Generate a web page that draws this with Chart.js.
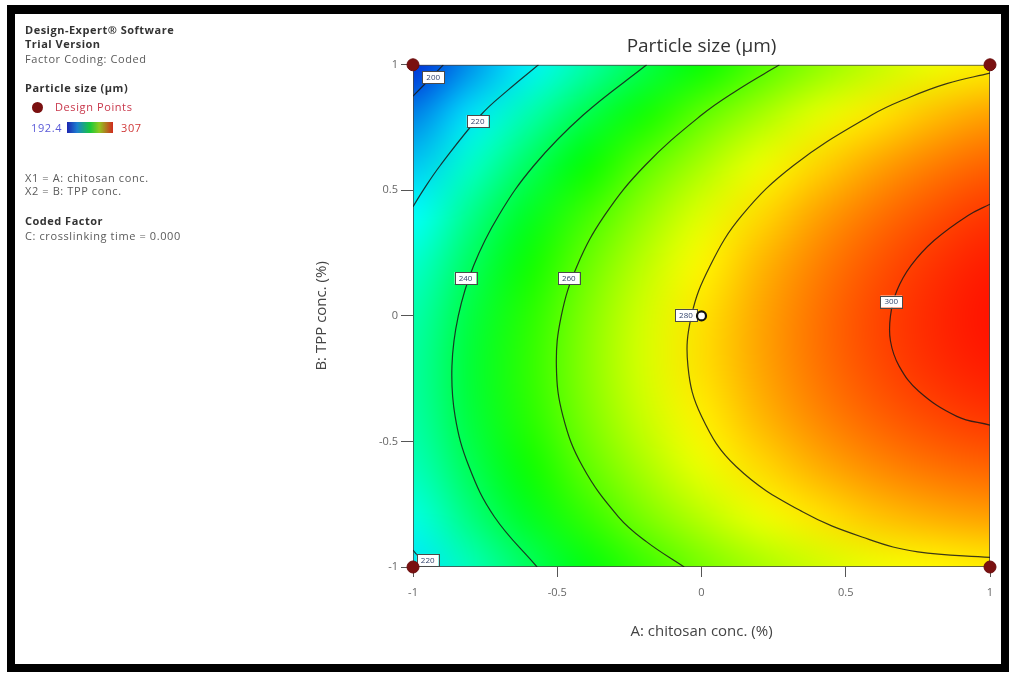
<!DOCTYPE html>
<html>
<head>
<meta charset="utf-8">
<title>Particle size (µm)</title>
<script src="https://cdn.jsdelivr.net/npm/chart.js@4.4.1/dist/chart.umd.min.js"></script>
<style>
  html, body { margin: 0; padding: 0; background: #fff; }
  #page { position: relative; width: 1011px; height: 673px; overflow: hidden; font-family: 'Open Sans', 'Noto Sans', sans-serif; }
  #frame { position: absolute; left: 7px; top: 5px; width: 986px; height: 650px; border: 8px solid #000; border-top-width: 9px; }
  #plot { position: absolute; left: 0; top: 0; }
  .side { position: absolute; left: 25px; font-size: 11px; letter-spacing: 0.6px; line-height: 13px; color: #5a5a5a; white-space: nowrap; }
  .side.b { font-weight: 700; color: #333; letter-spacing: 0.5px; }
  #dot { position: absolute; left: 32px; top: 102px; width: 11px; height: 11px; border-radius: 50%; background: #7a1010; }
  #ramp { position: absolute; left: 67px; top: 122px; width: 46px; height: 11px;
          background: linear-gradient(to right, #1c24b0 0%, #1e7fd0 22%, #18c83a 50%, #8fc820 70%, #d02a1e 100%); }
</style>
</head>
<body>
<div id="page">
  <canvas id="plot" width="1011" height="673"></canvas>
  <div id="frame"></div>

  <div class="side b" style="top:23px">Design-Expert® Software</div>
  <div class="side b" style="top:37px">Trial Version</div>
  <div class="side" style="top:52px">Factor Coding: Coded</div>
  <div class="side b" style="top:81px">Particle size (µm)</div>
  <div id="dot"></div>
  <div class="side" style="top:100px; left:55px; color:#c8364a">Design Points</div>
  <div class="side" style="top:121px; left:31px; color:#5a5ad8">192.4</div>
  <div id="ramp"></div>
  <div class="side" style="top:121px; left:121px; color:#d03838">307</div>
  <div class="side" style="top:171px">X1 = A: chitosan conc.</div>
  <div class="side" style="top:184px">X2 = B: TPP conc.</div>
  <div class="side b" style="top:214px">Coded Factor</div>
  <div class="side" style="top:229px">C: crosslinking time = 0.000</div>
</div>

<script>
// Coded factor levels of the surface grid (A across, B down from +1 to -1)
const aLevels = [-1, -0.8, -0.6, -0.4, -0.2, 0, 0.2, 0.4, 0.6, 0.8, 1];
const bLevels = [1, 0.8, 0.6, 0.4, 0.2, 0, -0.2, -0.4, -0.6, -0.8, -1];

// Particle size (µm) on the grid, one row per B level
const sizeGrid = [
  [192.6, 206.4, 219.0, 230.5, 241.0, 250.3, 258.4, 265.5, 271.5, 276.3, 280.0],
  [204.1, 217.6, 230.0, 241.3, 251.5, 260.5, 268.4, 275.3, 281.0, 285.5, 289.0],
  [213.6, 226.9, 239.0, 250.0, 260.0, 268.8, 276.4, 283.0, 288.5, 292.8, 296.0],
  [221.1, 234.1, 246.0, 256.8, 266.5, 275.0, 282.4, 288.8, 294.0, 298.0, 301.0],
  [226.6, 239.4, 251.0, 261.5, 271.0, 279.3, 286.4, 292.5, 297.5, 301.3, 304.0],
  [230.1, 242.6, 254.0, 264.3, 273.5, 281.5, 288.4, 294.2, 299.0, 302.5, 305.0],
  [231.6, 243.9, 255.0, 265.0, 274.0, 281.8, 288.4, 294.0, 298.5, 301.8, 304.0],
  [231.1, 243.1, 254.0, 263.8, 272.5, 280.0, 286.4, 291.8, 296.0, 299.0, 301.0],
  [228.6, 240.4, 251.0, 260.5, 269.0, 276.3, 282.4, 287.5, 291.5, 294.3, 296.0],
  [224.1, 235.6, 246.0, 255.3, 263.5, 270.5, 276.4, 281.3, 285.0, 287.5, 289.0],
  [217.6, 228.9, 239.0, 248.0, 256.0, 262.8, 268.4, 273.0, 276.5, 278.8, 280.0]
];

// Colour ramp: 192.4 (blue) .. 307 (red)
const colorStops = [192.4, 221.05, 249.7, 278.35, 307];
const stopColors = [[0, 40, 215], [0, 255, 255], [0, 255, 0], [255, 255, 0], [255, 0, 0]];

// Contour lines (A, B pairs along each line)
const contourLevels = [200, 220, 220, 240, 260, 280, 300];
const contourA = [
  [-0.895, -0.945, -1],
  [-0.565, -0.67, -0.765, -0.905, -0.965, -1],
  [-1, -0.975, -0.957],
  [-0.19, -0.41, -0.58, -0.703, -0.79, -0.843, -0.865, -0.854, -0.806, -0.718, -0.57],
  [0.27, 0.125, 0.0, -0.195, -0.336, -0.431, -0.486, -0.503, -0.48, -0.412, -0.288, -0.19, -0.06],
  [1, 0.85, 0.72, 0.59, 0.32, 0.14, 0.03, -0.035, -0.047, 0.0, 0.12, 0.35, 0.58, 0.75, 1],
  [1, 0.924, 0.806, 0.726, 0.677, 0.655, 0.655, 0.685, 0.753, 0.885, 1]
];
const contourB = [
  [1, 0.94, 0.875],
  [1, 0.9, 0.8, 0.6, 0.5, 0.435],
  [-0.933, -0.968, -1],
  [1, 0.8, 0.6, 0.4, 0.2, 0, -0.2, -0.4, -0.6, -0.8, -1],
  [1, 0.9, 0.8, 0.6, 0.4, 0.2, 0, -0.2, -0.4, -0.6, -0.8, -0.9, -1],
  [0.967, 0.925, 0.87, 0.8, 0.6, 0.4, 0.2, 0, -0.2, -0.4, -0.6, -0.78, -0.89, -0.94, -0.962],
  [0.445, 0.4, 0.3, 0.2, 0.1, 0, -0.1, -0.2, -0.3, -0.4, -0.435]
];

// Contour value tags
const tagText = ['200', '220', '240', '260', '280', '300', '220'];
const tagA = [-0.930, -0.776, -0.818, -0.460, -0.054, 0.658, -0.949];
const tagB = [0.950, 0.776, 0.151, 0.151, 0.004, 0.057, -0.972];

// Design points
const designA = [-1, 1, -1, 1];
const designB = [1, 1, -1, -1];
const centerA = [0];
const centerB = [0];

function sizeColor(v) {
  if (v <= colorStops[0]) return stopColors[0];
  for (let i = 1; i < colorStops.length; i++) {
    if (v <= colorStops[i]) {
      const t = (v - colorStops[i - 1]) / (colorStops[i] - colorStops[i - 1]);
      return stopColors[i - 1].map((c, k) => Math.round(c + (stopColors[i][k] - c) * t));
    }
  }
  return stopColors[stopColors.length - 1];
}

const zip = (xs, ys) => xs.map((x, i) => ({ x, y: ys[i] }));

// Surface fill: grid colours, smoothed by the canvas when scaled up
const surfacePlugin = {
  id: 'surface',
  beforeDatasetsDraw(chart) {
    const { ctx, scales: { x, y } } = chart;
    const cols = aLevels.length, rows = bLevels.length;
    const off = document.createElement('canvas');
    off.width = cols;
    off.height = rows;
    const octx = off.getContext('2d');
    const img = octx.createImageData(cols, rows);
    sizeGrid.forEach((row, r) => row.forEach((v, c) => {
      const rgb = sizeColor(v);
      const i = (r * cols + c) * 4;
      img.data[i] = rgb[0];
      img.data[i + 1] = rgb[1];
      img.data[i + 2] = rgb[2];
      img.data[i + 3] = 255;
    }));
    octx.putImageData(img, 0, 0);

    const left = x.getPixelForValue(aLevels[0]);
    const right = x.getPixelForValue(aLevels[cols - 1]);
    const top = y.getPixelForValue(bLevels[0]);
    const bottom = y.getPixelForValue(bLevels[rows - 1]);
    ctx.save();
    ctx.imageSmoothingEnabled = true;
    ctx.imageSmoothingQuality = 'high';
    ctx.drawImage(off, 0.5, 0.5, cols - 1, rows - 1, left, top, right - left, bottom - top);
    ctx.strokeStyle = 'rgba(70,70,70,0.8)';
    ctx.lineWidth = 1;
    ctx.strokeRect(left + 0.5, top + 0.5, right - left - 1, bottom - top - 1);
    ctx.restore();
  }
};

// Boxed value tags, drawn once the last contour is on the canvas
const firstContour = 2;
const tagPlugin = {
  id: 'tags',
  afterDatasetDraw(chart, args) {
    if (args.index !== firstContour) return;
    const { ctx, scales: { x, y } } = chart;
    ctx.save();
    ctx.font = '8px "Open Sans", sans-serif';
    ctx.textAlign = 'center';
    ctx.textBaseline = 'middle';
    tagText.forEach((t, i) => {
      const px = x.getPixelForValue(tagA[i]);
      const py = y.getPixelForValue(tagB[i]);
      const w = ctx.measureText(t).width + 8;
      const h = 12;
      ctx.fillStyle = '#fff';
      ctx.fillRect(px - w / 2, py - h / 2, w, h);
      ctx.strokeStyle = '#4a4a4a';
      ctx.lineWidth = 1;
      ctx.strokeRect(Math.round(px - w / 2) + 0.5, Math.round(py - h / 2) + 0.5, Math.round(w), h);
      ctx.fillStyle = '#34456e';
      ctx.fillText(t, px, py + 0.5);
    });
    ctx.restore();
  }
};

const contourSets = contourLevels.map((lvl, i) => ({
  label: String(lvl),
  data: zip(contourA[i], contourB[i]),
  showLine: true,
  borderColor: 'rgba(25,25,25,0.85)',
  borderWidth: 1.2,
  tension: 0.4,
  pointRadius: 0
}));

const tickFont = { family: '"Open Sans", sans-serif', size: 11 };
const plainTick = (v) => String(v);

new Chart(document.getElementById('plot').getContext('2d'), {
  type: 'scatter',
  data: {
    datasets: [
      {
        label: 'Design Points',
        data: zip(designA, designB),
        pointRadius: 6,
        backgroundColor: '#7a1010',
        borderColor: '#6a0c0c',
        borderWidth: 1,
        clip: false
      },
      {
        label: 'Center point',
        data: zip(centerA, centerB),
        pointRadius: 4.5,
        backgroundColor: '#fff',
        borderColor: '#111',
        borderWidth: 2.2,
        clip: false
      },
      ...contourSets
    ]
  },
  options: {
    responsive: false,
    animation: false,
    layout: { padding: { left: 309, right: 21, top: 8, bottom: 28 } },
    plugins: {
      legend: { display: false },
      tooltip: { enabled: false },
      title: {
        display: true,
        text: 'Particle size (µm)',
        fullSize: false,
        color: '#333',
        font: { family: '"Open Sans", sans-serif', size: 19, weight: 'normal', lineHeight: 1.2 },
        padding: { top: 27, bottom: 7 }
      }
    },
    scales: {
      x: {
        type: 'linear',
        min: -1,
        max: 1,
        ticks: { stepSize: 0.5, color: '#666', padding: 9, maxRotation: 0, font: tickFont, callback: plainTick },
        grid: { drawOnChartArea: false, tickLength: 10, color: '#555' },
        border: { display: false },
        title: { display: true, text: 'A: chitosan conc. (%)', color: '#444', font: { family: '"Open Sans", sans-serif', size: 15 } },
        afterFit(scale) { scale.height = 78; }
      },
      y: {
        type: 'linear',
        min: -1,
        max: 1,
        ticks: { stepSize: 0.5, color: '#666', padding: 3, font: tickFont, callback: plainTick },
        grid: { drawOnChartArea: false, tickLength: 12, color: '#555' },
        border: { display: false },
        title: { display: true, text: 'B: TPP conc. (%)', color: '#444', font: { family: '"Open Sans", sans-serif', size: 15 } },
        afterFit(scale) { scale.width = 104; }
      }
    }
  },
  plugins: [surfacePlugin, tagPlugin]
});
</script>
</body>
</html>
